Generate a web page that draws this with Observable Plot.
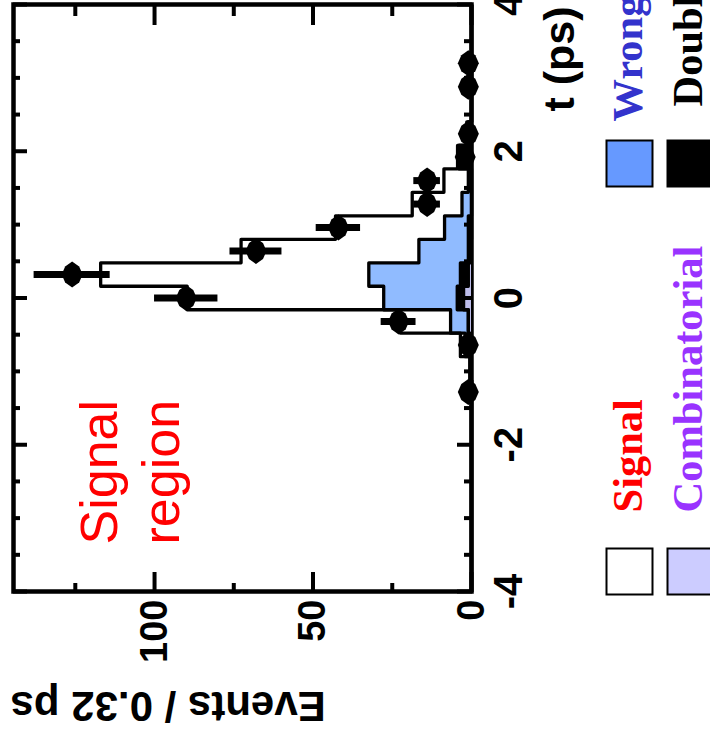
<!DOCTYPE html>
<html><head><meta charset="utf-8">
<script src="https://cdn.jsdelivr.net/npm/d3@7"></script>
<script src="https://cdn.jsdelivr.net/npm/@observablehq/plot@0.6"></script>
<style>
html,body{margin:0;padding:0;background:#fff;}
#wrap{position:relative;width:710px;height:740px;overflow:hidden;background:#fff;}
#wrap svg{position:absolute;left:0;top:0;transform-origin:0 0;transform:translate(0px,740px) rotate(-90deg);max-width:none !important;}
</style></head><body><div id="wrap"></div>
<script>
// ---- data (bin edges of the 0.32 ps histogram, 25 bins) ----
const binEdges = [-4,-3.68,-3.36,-3.04,-2.72,-2.4,-2.08,-1.76,-1.44,-1.12,-0.8,-0.48,-0.16,0.16,0.48,0.8,1.12,1.44,1.76,2.08,2.4,2.72,3.04,3.36,3.68,4];
// stacked components (events per bin)
const combinatorial = [0,0,0,0,0,0,0,0,0,0.2,0.5,1.0,2.5,1.0,0.3,0,0,0,0,0,0,0,0,0,0];
const doubleMisID   = [0,0,0,0,0,0,0,0,0,0,0,0,2.0,2.5,0.7,1.0,0,0,4.0,1.0,0,0,0,0,0];
const wrongTag      = [0,0,0,0,0,0,0,0,0,0.3,1.5,5.6,23.2,28.9,15.6,7.5,3.0,1.0,0,0,0,0,0,0,0];
const signal        = [0,0,0,0,0,0,0,0,0,0,1.5,15.8,62.0,84.6,56.1,34.4,15.7,7.7,0.4,0.5,0,0,0,0,0];
// data points
const dataT   = [-1.28,-0.64,-0.32,0,0.32,0.64,0.96,1.28,1.6,1.92,2.24,2.88,3.2];
const dataN   = [1,1,23,90,126,68,42,14,14,2,1,1,1];
const dataErr = [1,1,5.5,10,12,8.2,7,4.2,4.2,1.4,1,1,1];
// ticks
const tMajor = [-4,-2,0,2,4];
const tMinor = [-3.5,-3,-2.5,-1.5,-1,-0.5,0.5,1,1.5,2.5,3,3.5];
const evMajor = [0,50,100];
const evMinor = [25,75,125];
// legend
const legendLabels = ["Signal","Combinatorial","Wrong tag","Double misID"];
const legendBoxFills = ["#ffffff","#ccccff","#6699ff","#000000"];
const legendTextColors = ["#ff0000","#9933ff","#3333cc","#000000"];

// ---- build stacked layers ----
const layerDefs = [
  {vals: combinatorial, fill: "#bdbdea"},
  {vals: doubleMisID, fill: "#000000"},
  {vals: wrongTag, fill: "#90bbff"},
  {vals: signal, fill: "#ffffff"}
];
let base = combinatorial.map(() => 0);
const layers = layerDefs.map(L => {
  const lo = base.slice();
  const hi = base.map((b, i) => b + L.vals[i]);
  base = hi;
  const n = L.vals.length;
  const pts = binEdges.map((e, k) => ({t: e, lo: lo[Math.min(k, n - 1)], hi: hi[Math.min(k, n - 1)]}));
  return {fill: L.fill, pts};
});
const points = dataT.map((t, i) => ({t, n: dataN[i], e: dataErr[i]}));

const W = 740, H = 710, ML = 148, MR = 5, MT = 13, MB = 239;
const FW = W - ML - MR, FH = H - MT - MB;

const blob = {draw(ctx) {
  ctx.moveTo(13, 0); ctx.lineTo(8, 7); ctx.lineTo(0, 10.5); ctx.lineTo(-8, 7);
  ctx.lineTo(-13, 0); ctx.lineTo(-8, -7); ctx.lineTo(0, -10.5); ctx.lineTo(8, -7); ctx.closePath();
}};

const legendPos = [[20,158],[20,219],[428,158],[428,219]];
const legendTextPos = [[79,170],[79,230],[470,170],[485,230]];

const marks = [
  Plot.frame({stroke: "black", strokeWidth: 4.5}),
  ...layers.map(L => Plot.areaY(L.pts, {x: "t", y1: "lo", y2: "hi", curve: "step-after", fill: L.fill})),
  ...layers.map(L => Plot.lineY(L.pts, {x: "t", y: "hi", curve: "step-after", stroke: "black", strokeWidth: 3.3})),
  // ticks (inside the frame)
  Plot.tickX(tMajor, {x: d => d, insetTop: FH - 14, stroke: "black", strokeWidth: 4}),
  Plot.tickX(tMinor, {x: d => d, insetTop: FH - 7, stroke: "black", strokeWidth: 4}),
  Plot.tickX(tMajor, {x: d => d, insetBottom: FH - 14, stroke: "black", strokeWidth: 4}),
  Plot.tickX(tMinor, {x: d => d, insetBottom: FH - 7, stroke: "black", strokeWidth: 4}),
  Plot.tickY(evMajor, {y: d => d, insetRight: FW - 20, stroke: "black", strokeWidth: 4}),
  Plot.tickY(evMinor, {y: d => d, insetRight: FW - 9, stroke: "black", strokeWidth: 4}),
  Plot.tickY(evMajor, {y: d => d, insetLeft: FW - 20, stroke: "black", strokeWidth: 4}),
  Plot.tickY(evMinor, {y: d => d, insetLeft: FW - 11, stroke: "black", strokeWidth: 4}),
  // data points
  Plot.ruleX(points, {x: "t", y1: d => d.n - d.e, y2: d => d.n + d.e, stroke: "black", strokeWidth: 7}),
  Plot.dot(points, {x: "t", y: "n", symbol: blob, r: 10, fill: "black", stroke: "none"}),
  // axes
  Plot.axisX({ticks: tMajor, tickSize: 0, tickPadding: 22, fontSize: 40, fontWeight: "bold", label: null, tickFormat: d => String(d)}),
  Plot.axisY({ticks: evMajor, tickSize: 0, tickPadding: 8, fontSize: 38, fontWeight: "bold", label: null, tickFormat: d => String(d)}),
  Plot.text(["Events / 0.32 ps"], {text: d => d, frameAnchor: "top-left", dx: -100, dy: -3, rotate: -90, textAnchor: "end", lineAnchor: "bottom", fontSize: 42, fontWeight: "bold"}),
  Plot.text(["t (ps)"], {text: d => d, frameAnchor: "bottom-right", dx: -2, dy: 102, textAnchor: "end", lineAnchor: "bottom", fontSize: 43, fontWeight: "bold"}),
  // signal region annotation
  Plot.text(["Signal"], {text: d => d, frameAnchor: "top-left", dx: 47, dy: 103, textAnchor: "start", lineAnchor: "bottom", fontSize: 52, fill: "#ff0000", ariaLabel: "sig-line1"}),
  Plot.text(["region"], {text: d => d, frameAnchor: "top-left", dx: 47, dy: 165, textAnchor: "start", lineAnchor: "bottom", fontSize: 52, fill: "#ff0000", ariaLabel: "sig-line2"}),
  // legend
  ...legendLabels.map((lab, i) => Plot.dot([lab], {frameAnchor: "bottom-left", dx: legendPos[i][0], dy: legendPos[i][1], symbol: "square", r: 25.95, fill: legendBoxFills[i], stroke: "black", strokeWidth: 2})),
  ...legendLabels.map((lab, i) => Plot.text([lab], {text: d => d, frameAnchor: "bottom-left", dx: legendTextPos[i][0], dy: legendTextPos[i][1], textAnchor: "start", lineAnchor: "bottom", fontSize: 42.5, fontWeight: "bold", fontFamily: "Liberation Serif, Times New Roman, serif", fill: legendTextColors[i]}))
];

const chart = Plot.plot({
  width: W, height: H,
  marginLeft: ML, marginRight: MR, marginTop: MT, marginBottom: MB,
  x: {domain: [-4, 4], label: null},
  y: {domain: [0, 144.5], label: null},
  style: {fontFamily: "Liberation Sans, Arial, sans-serif", background: "white", color: "black"},
  marks
});
const setLen = (label, len) => chart.querySelectorAll(`g[aria-label="${label}"] text`).forEach(t => {
  t.setAttribute("textLength", len); t.setAttribute("lengthAdjust", "spacingAndGlyphs");
});
setLen("sig-line1", 124);
setLen("sig-line2", 137);
document.getElementById("wrap").appendChild(chart);
</script>
</body></html>
